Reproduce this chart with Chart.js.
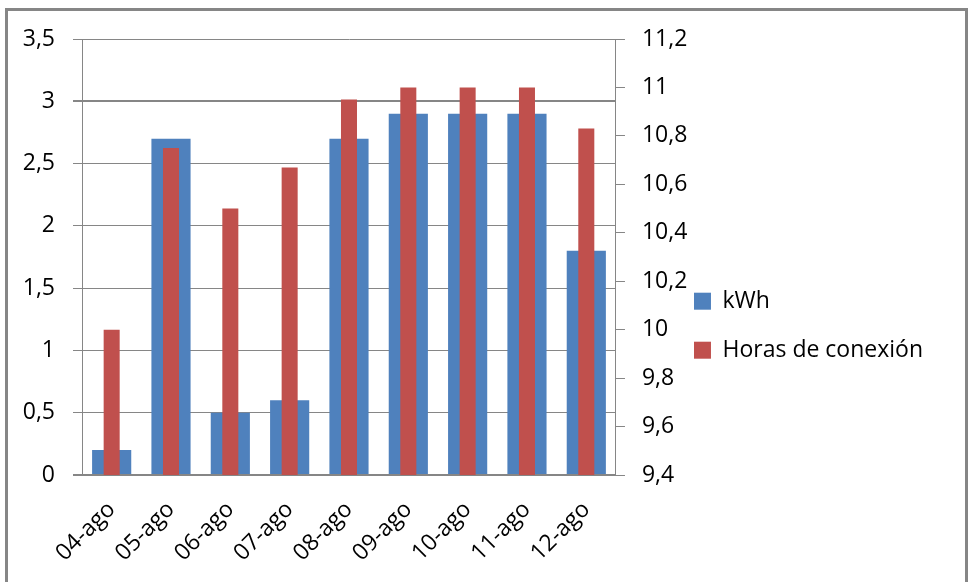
<!DOCTYPE html>
<html>
<head>
<meta charset="utf-8">
<script src="https://cdn.jsdelivr.net/npm/chart.js@4"></script>
<style>
  body { margin: 0; background: #fff; overflow: hidden; }
  #wrap { position: relative; width: 968px; height: 582px; }
  #frame { position: absolute; left: 5px; top: 8px; width: 963px; height: 590px; border: 3px solid #868686; box-sizing: border-box; pointer-events: none; }
</style>
</head>
<body>
<div id="wrap">
  <canvas id="chart"></canvas>
  <div id="frame"></div>
</div>
<script>
const dias = ["04-ago", "05-ago", "06-ago", "07-ago", "08-ago", "09-ago", "10-ago", "11-ago", "12-ago"];
const kwh = [0.2, 2.7, 0.5, 0.6, 2.7, 2.9, 2.9, 2.9, 1.8];
const horas = [10.0, 10.75, 10.5, 10.67, 10.95, 11.0, 11.0, 11.0, 10.83];

const gris = "#868686";
const fuente = { family: "'Open Sans', sans-serif", size: 23 };
const coma = (v) => String(Math.round(v * 10) / 10).replace(".", ",");

new Chart(document.getElementById("chart"), {
  type: "bar",
  data: {
    labels: dias,
    datasets: [
      {
        label: "kWh",
        data: kwh,
        backgroundColor: "#4F81BD",
        borderWidth: 0,
        yAxisID: "y",
        grouped: false,
        categoryPercentage: 1,
        barPercentage: 0.66,
        order: 2,
      },
      {
        label: "Horas de conexión",
        data: horas,
        backgroundColor: "#C0504D",
        borderWidth: 0,
        yAxisID: "y1",
        grouped: false,
        categoryPercentage: 1,
        barPercentage: 0.27,
        order: 1,
      },
    ],
  },
  options: {
    responsive: true,
    maintainAspectRatio: false,
    animation: false,
    layout: { padding: { left: 20, top: 39, right: 35, bottom: 0 } },
    plugins: {
      tooltip: { enabled: false },
      legend: {
        position: "right",
        align: "center",
        maxWidth: 320,
        // empty title only pushes the two items down
        title: { display: true, text: "", padding: 20, font: { size: 12 } },
        labels: {
          boxWidth: 17,
          boxHeight: 17,
          padding: 2,
          color: "#000",
          font: { family: fuente.family, size: 23, lineHeight: 47 / 23 },
          generateLabels: (chart) =>
            Chart.defaults.plugins.legend.labels.generateLabels(chart)
              .sort((a, b) => a.datasetIndex - b.datasetIndex)
              .map((l) => ({ ...l, text: [l.text] })),
        },
      },
    },
    scales: {
      x: {
        grid: { display: false },
        border: { display: false },
        ticks: { color: "#000", font: fuente, maxRotation: 45, minRotation: 45, autoSkip: false, padding: 13 },
        afterFit: (s) => { s.height = 107; },
      },
      y: {
        position: "left",
        min: 0,
        max: 3.5,
        ticks: { stepSize: 0.5, color: "#000", font: fuente, padding: 18, callback: coma },
        grid: {
          color: gris,
          tickLength: 9,
          lineWidth: (c) => (c.tick && (c.tick.value === 0 || c.tick.value === 3) ? 2 : 1),
        },
        border: { display: true, color: gris, width: 1 },
        afterFit: (s) => { s.width = 62; },
      },
      y1: {
        position: "right",
        min: 9.4,
        max: 11.2,
        ticks: { stepSize: 0.2, color: "#000", font: fuente, padding: 17, callback: coma },
        grid: { drawOnChartArea: false, color: gris, tickLength: 9 },
        border: { display: true, color: gris, width: 1 },
        afterFit: (s) => { s.width = 76; },
      },
    },
  },
});
</script>
</body>
</html>
